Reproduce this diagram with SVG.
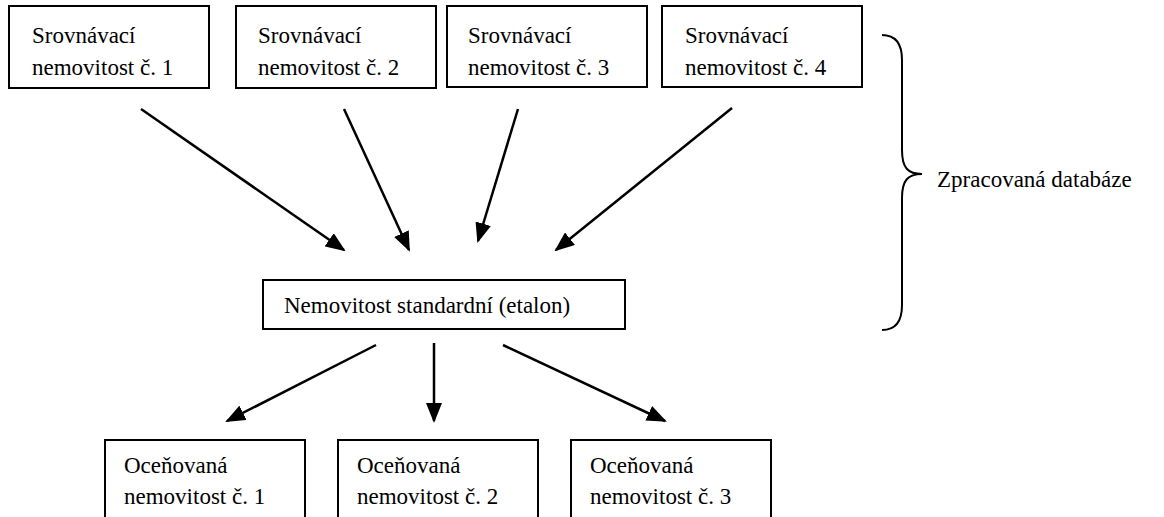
<svg xmlns="http://www.w3.org/2000/svg" width="1164" height="517" viewBox="0 0 1164 517">
<style>
.box{fill:#fff;stroke:#000;stroke-width:2}
.c{stroke:#000;stroke-width:2.5;fill:none;marker-end:url(#ah)}
</style>
<defs>
<marker id="ah" markerUnits="userSpaceOnUse" markerWidth="20" markerHeight="16" refX="18" refY="8" orient="auto" viewBox="0 0 20 16">
<path d="M0,0 L20,8 L0,16 Z" fill="#000"/>
</marker>
</defs>
<rect width="1164" height="517" fill="#fff"/>
<g font-family="'Liberation Serif', 'Times New Roman', 'DejaVu Serif', serif" font-size="23" fill="#000">
<g id="s1"><rect class="box" x="9" y="6" width="200" height="82"/><text x="32" y="43">Srovnávací</text><text x="32" y="75">nemovitost č. 1</text></g>
<g id="s2"><rect class="box" x="236" y="6" width="200" height="82"/><text x="258" y="43">Srovnávací</text><text x="258" y="75">nemovitost č. 2</text></g>
<g id="s3"><rect class="box" x="447" y="6" width="200" height="81"/><text x="468" y="43">Srovnávací</text><text x="468" y="75">nemovitost č. 3</text></g>
<g id="s4"><rect class="box" x="662" y="6" width="200" height="81"/><text x="685" y="43">Srovnávací</text><text x="685" y="75">nemovitost č. 4</text></g>
<g id="etalon"><rect class="box" x="263" y="280" width="362" height="49"/><text x="284" y="313">Nemovitost standardní (etalon)</text></g>
<g id="o1"><rect class="box" x="105" y="440" width="200" height="90"/><text x="124" y="473">Oceňovaná</text><text x="124" y="504">nemovitost č. 1</text></g>
<g id="o2"><rect class="box" x="338" y="440" width="200" height="90"/><text x="357" y="473">Oceňovaná</text><text x="357" y="504">nemovitost č. 2</text></g>
<g id="o3"><rect class="box" x="571" y="440" width="200" height="90"/><text x="590" y="473">Oceňovaná</text><text x="590" y="504">nemovitost č. 3</text></g>
<g id="db"><path d="M882,35 C897,35 902,45 902,60 L902,150 C902,168 908,174 922,174 C908,174 902,180 902,198 L902,305 C902,320 897,330 882,330" fill="none" stroke="#000" stroke-width="2"/><text x="937" y="187">Zpracovaná databáze</text></g>
</g>
<g id="connectors">
<line class="c" x1="141" y1="109" x2="344" y2="250"/>
<line class="c" x1="344" y1="109" x2="409" y2="250"/>
<line class="c" x1="518" y1="109" x2="478" y2="241"/>
<line class="c" x1="732" y1="108" x2="556" y2="250"/>
<line class="c" x1="376" y1="345" x2="227" y2="421"/>
<line class="c" x1="434" y1="343" x2="434" y2="421"/>
<line class="c" x1="503" y1="345" x2="665" y2="421"/>
</g>
</svg>
